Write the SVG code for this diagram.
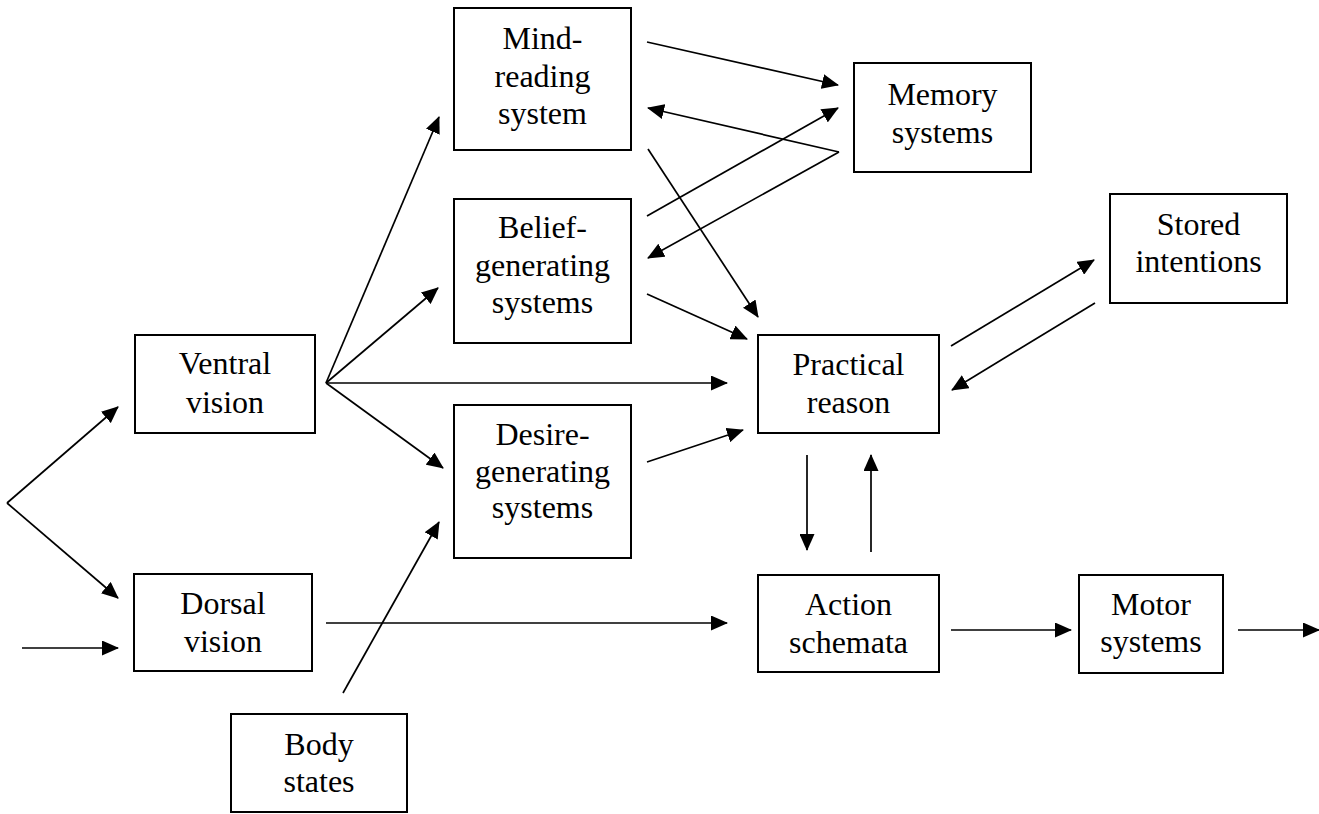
<svg xmlns="http://www.w3.org/2000/svg" width="1319" height="814" viewBox="0 0 1319 814">
<style>
.box{fill:#fff;stroke:#000;stroke-width:2}
.t{font-family:"Liberation Serif","Times New Roman",serif;font-size:32px;fill:#000;text-anchor:middle}
.c{stroke:#000;stroke-width:1.7;fill:none;marker-end:url(#ah)}
</style>
<defs>
<marker id="ah" markerUnits="userSpaceOnUse" markerWidth="17" markerHeight="15" viewBox="0 0 17 15" refX="16" refY="7.5" orient="auto">
<path d="M0,0 L17,7.5 L0,15 z" fill="#000"/>
</marker>
</defs>
<rect width="1319" height="814" fill="#fff"/>
<g id="connectors">
<line class="c" x1="7" y1="503" x2="118" y2="407"/>
<line class="c" x1="7" y1="503" x2="118" y2="598"/>
<line class="c" x1="22" y1="648" x2="118" y2="648"/>
<line class="c" x1="326" y1="383" x2="439" y2="117"/>
<line class="c" x1="326" y1="383" x2="438" y2="288"/>
<line class="c" x1="326" y1="383" x2="727" y2="383"/>
<line class="c" x1="326" y1="383" x2="443" y2="468"/>
<line class="c" x1="343" y1="693" x2="439" y2="522"/>
<line class="c" x1="326" y1="623" x2="727" y2="623"/>
<line class="c" x1="647" y1="42" x2="838" y2="85"/>
<line class="c" x1="839" y1="152" x2="648" y2="108"/>
<line class="c" x1="647" y1="216" x2="838" y2="108"/>
<line class="c" x1="839" y1="152" x2="648" y2="258"/>
<line class="c" x1="648" y1="149" x2="758" y2="317"/>
<line class="c" x1="647" y1="294" x2="747" y2="339"/>
<line class="c" x1="647" y1="462" x2="743" y2="430"/>
<line class="c" x1="951" y1="346" x2="1094" y2="260"/>
<line class="c" x1="1095" y1="303" x2="952" y2="390"/>
<line class="c" x1="807" y1="455" x2="807" y2="550"/>
<line class="c" x1="871" y1="552" x2="871" y2="455"/>
<line class="c" x1="951" y1="630" x2="1071" y2="630"/>
<line class="c" x1="1238" y1="630" x2="1319" y2="630"/>
</g>
<g id="mind">
<rect class="box" x="454" y="8" width="177" height="142"/>
<text class="t" x="542.5" y="49">Mind-</text>
<text class="t" x="542.5" y="86.5">reading</text>
<text class="t" x="542.5" y="124">system</text>
</g>
<g id="memory">
<rect class="box" x="854" y="63" width="177" height="109"/>
<text class="t" x="942.5" y="105">Memory</text>
<text class="t" x="942.5" y="142.5">systems</text>
</g>
<g id="belief">
<rect class="box" x="454" y="199" width="177" height="144"/>
<text class="t" x="542.5" y="238">Belief-</text>
<text class="t" x="542.5" y="275.5">generating</text>
<text class="t" x="542.5" y="313">systems</text>
</g>
<g id="desire">
<rect class="box" x="454" y="405" width="177" height="153"/>
<text class="t" x="542.5" y="445">Desire-</text>
<text class="t" x="542.5" y="481.5">generating</text>
<text class="t" x="542.5" y="518">systems</text>
</g>
<g id="ventral">
<rect class="box" x="135" y="335" width="180" height="98"/>
<text class="t" x="225" y="374">Ventral</text>
<text class="t" x="225" y="412.5">vision</text>
</g>
<g id="dorsal">
<rect class="box" x="134" y="574" width="178" height="97"/>
<text class="t" x="223" y="614">Dorsal</text>
<text class="t" x="223" y="652">vision</text>
</g>
<g id="practical">
<rect class="box" x="758" y="335" width="181" height="98"/>
<text class="t" x="848.5" y="375">Practical</text>
<text class="t" x="848.5" y="413">reason</text>
</g>
<g id="stored">
<rect class="box" x="1110" y="194" width="177" height="109"/>
<text class="t" x="1198.5" y="235">Stored</text>
<text class="t" x="1198.5" y="272">intentions</text>
</g>
<g id="action">
<rect class="box" x="758" y="575" width="181" height="97"/>
<text class="t" x="848.5" y="615">Action</text>
<text class="t" x="848.5" y="652.5">schemata</text>
</g>
<g id="motor">
<rect class="box" x="1079" y="575" width="144" height="98"/>
<text class="t" x="1151" y="615">Motor</text>
<text class="t" x="1151" y="652">systems</text>
</g>
<g id="body">
<rect class="box" x="231" y="714" width="176" height="98"/>
<text class="t" x="319" y="755">Body</text>
<text class="t" x="319" y="792">states</text>
</g>
</svg>
